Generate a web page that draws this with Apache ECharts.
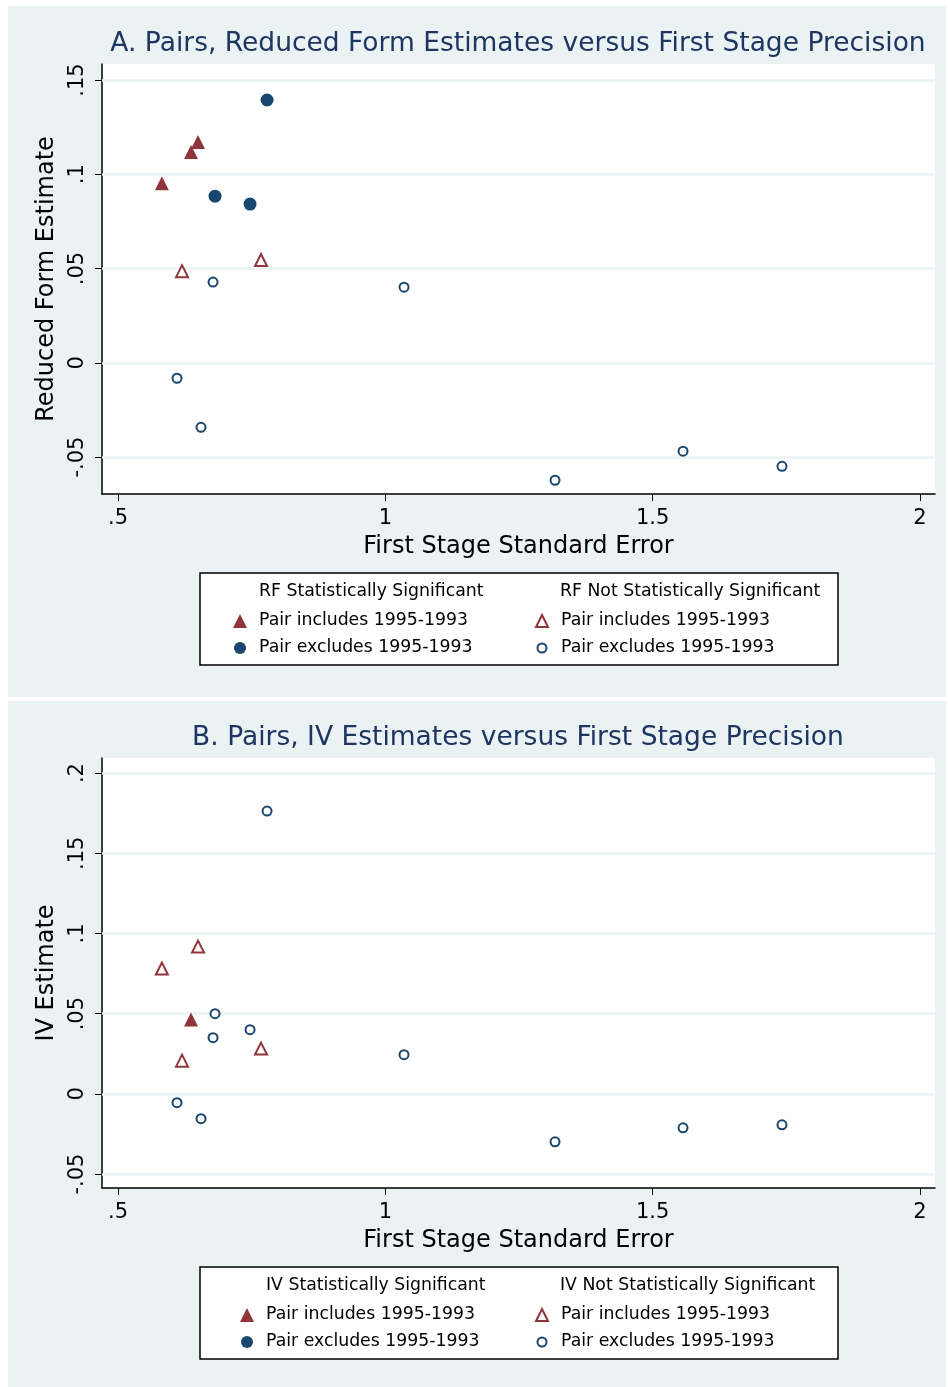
<!DOCTYPE html>
<html>
<head>
<meta charset="utf-8">
<script src="https://cdn.jsdelivr.net/npm/echarts@6/dist/echarts.min.js"></script>
<style>
html,body{margin:0;padding:0;background:#fff;}
#c{width:948px;height:1387px;}
</style>
</head>
<body>
<div id="c"></div>
<script>
// ---------- data ----------
const xTicks = [0.5, 1, 1.5, 2];
const xTickLabels = ['.5', '1', '1.5', '2'];
const yTicksA = [-0.05, 0, 0.05, 0.1, 0.15];
const yTickLabelsA = ['-.05', '0', '.05', '.1', '.15'];
const yTicksB = [-0.05, 0, 0.05, 0.1, 0.15, 0.2];
const yTickLabelsB = ['-.05', '0', '.05', '.1', '.15', '.2'];

// Panel A: reduced form estimates
const rfSigInc = [[0.582, 0.0953], [0.6365, 0.1118], [0.6496, 0.1171]];
const rfSigExc = [[0.7787, 0.1394], [0.6814, 0.0884], [0.7469, 0.0842]];
const rfNsInc = [[0.6197, 0.0486], [0.7674, 0.0545]];
const rfNsExc = [[0.6777, 0.0428], [1.0349, 0.0401], [0.6103, -0.0082], [0.6552, -0.0342],
                 [1.3173, -0.0623], [1.5567, -0.0469], [1.7418, -0.0549]];

// Panel B: IV estimates
const ivSigInc = [[0.6365, 0.0463]];
const ivSigExc = [];
const ivNsInc = [[0.582, 0.0781], [0.6496, 0.0918], [0.6197, 0.0207], [0.7674, 0.0282]];
const ivNsExc = [[0.7787, 0.1763], [0.6814, 0.05], [0.6777, 0.035], [0.7469, 0.04], [1.0349, 0.0244],
                 [0.6103, -0.0055], [0.6552, -0.0155], [1.3173, -0.0299], [1.5567, -0.0212], [1.7418, -0.0193]];

const titleA = 'A. Pairs, Reduced Form Estimates versus First Stage Precision';
const titleB = 'B. Pairs, IV Estimates versus First Stage Precision';
const xName = 'First Stage Standard Error';
const yNameA = 'Reduced Form Estimate';
const yNameB = 'IV Estimate';
const legendHeadA = ['RF Statistically Significant', 'RF Not Statistically Significant'];
const legendHeadB = ['IV Statistically Significant', 'IV Not Statistically Significant'];
const itemInc = 'Pair includes 1995-1993';
const itemExc = 'Pair excludes 1995-1993';

// ---------- style ----------
const FONT = 'DejaVu Sans';
const RED = '#90353b';
const NAVY = '#1a476f';
const BG = '#eaf2f3';
const TITLE_C = '#1f3561';
const LFS = 17.3;

const labelMap = {
  A_si: itemInc, A_se: itemExc, A_ni: itemInc, A_ne: itemExc,
  B_si: itemInc, B_se: itemExc, B_ni: itemInc, B_ne: itemExc
};

function xAxisCfg(gi) {
  return {
    type: 'value', gridIndex: gi, min: 0.47, max: 2.028,
    name: xName, nameLocation: 'middle', nameGap: 41,
    nameTextStyle: {fontFamily: FONT, fontSize: 24, color: '#000'},
    axisLine: {show: true, onZero: false, lineStyle: {color: '#000', width: 1.5}},
    axisTick: {show: true, length: 7, lineStyle: {color: '#000', width: 1}, customValues: xTicks},
    axisLabel: {show: true, fontFamily: FONT, fontSize: 21, color: '#000', margin: 14,
      customValues: xTicks,
      formatter: v => { const i = xTicks.findIndex(t => Math.abs(t - v) < 1e-9); return i >= 0 ? xTickLabels[i] : ''; }},
    splitLine: {show: false}
  };
}
function yAxisCfg(gi, min, max, ticks, labels, name) {
  return {
    type: 'value', gridIndex: gi, min: min, max: max,
    name: name, nameLocation: 'middle', nameGap: 42,
    nameTextStyle: {fontFamily: FONT, fontSize: 24, color: '#000'},
    axisLine: {show: true, onZero: false, lineStyle: {color: '#000', width: 1.5}},
    axisTick: {show: true, length: 7, lineStyle: {color: '#000', width: 1}, customValues: ticks},
    axisLabel: {show: true, rotate: 90, fontFamily: FONT, fontSize: 21, color: '#000', margin: 14,
      customValues: ticks,
      formatter: v => { const i = ticks.findIndex(t => Math.abs(t - v) < 1e-9); return i >= 0 ? labels[i] : ''; }},
    splitLine: {show: false}
  };
}

function scatter(name, gi, data, symbol, size, filled, color) {
  return {
    name: name, type: 'scatter', xAxisIndex: gi, yAxisIndex: gi, data: data,
    symbol: symbol, symbolSize: size, z: 5,
    itemStyle: filled ? {color: color, borderWidth: 0, opacity: 1}
                      : {color: '#ffffff', borderColor: color, borderWidth: 2, opacity: 1},
    emphasis: {disabled: true}
  };
}
function gridLines(gi, ticks) {
  return {
    type: 'scatter', xAxisIndex: gi, yAxisIndex: gi, data: [], z: 1, silent: true,
    markLine: {silent: true, symbol: 'none', animation: false, label: {show: false},
      lineStyle: {color: BG, width: 2.5, type: 'solid'},
      data: ticks.map(v => ({yAxis: v}))}
  };
}

function legendItem(name, iconCx, textX, cy, size) {
  const left = iconCx - size / 2;
  const pad = textX - (left + size + 5);
  return {
    data: [name], orient: 'vertical', left: left, top: cy - 8, padding: 0,
    itemWidth: size, itemHeight: size, selectedMode: false,
    formatter: n => labelMap[n],
    textStyle: {fontFamily: FONT, fontSize: LFS, color: '#000', lineHeight: 20, padding: [0, 0, 0, pad]}
  };
}

const option = {
  backgroundColor: '#ffffff',
  animation: false,
  grid: [
    {left: 102, top: 64, width: 833, height: 430, show: true, backgroundColor: '#ffffff', borderWidth: 0, containLabel: false},
    {left: 102, top: 758, width: 833, height: 430, show: true, backgroundColor: '#ffffff', borderWidth: 0, containLabel: false}
  ],
  xAxis: [xAxisCfg(0), xAxisCfg(1)],
  yAxis: [
    yAxisCfg(0, -0.0696, 0.1585, yTicksA, yTickLabelsA, yNameA),
    yAxisCfg(1, -0.0587, 0.2094, yTicksB, yTickLabelsB, yNameB)
  ],
  legend: [
    legendItem('A_si', 240, 259, 619, 14),
    legendItem('A_se', 240, 259, 646, 12),
    legendItem('A_ni', 541, 560, 619, 12),
    legendItem('A_ne', 541, 560, 646, 9),
    legendItem('B_si', 247, 266, 1313, 14),
    legendItem('B_se', 247, 266, 1340, 12),
    legendItem('B_ni', 541, 560, 1313, 12),
    legendItem('B_ne', 541, 560, 1340, 9)
  ],
  graphic: [
    {type: 'rect', z: -10, silent: true, shape: {x: 8, y: 6, width: 938, height: 691}, style: {fill: BG}},
    {type: 'rect', z: -10, silent: true, shape: {x: 8, y: 701, width: 938, height: 686}, style: {fill: BG}},
    {type: 'rect', z: 0, silent: true, shape: {x: 200, y: 573, width: 638, height: 92}, style: {fill: '#fff', stroke: '#000', lineWidth: 1.5}},
    {type: 'rect', z: 0, silent: true, shape: {x: 200, y: 1267, width: 638, height: 92}, style: {fill: '#fff', stroke: '#000', lineWidth: 1.5}},
    {type: 'text', z: 5, silent: true, x: 518, y: 44, style: {text: titleA, fontFamily: FONT, fontSize: 26.5, fill: TITLE_C, textAlign: 'center', textVerticalAlign: 'middle'}},
    {type: 'text', z: 5, silent: true, x: 518, y: 738, style: {text: titleB, fontFamily: FONT, fontSize: 26.5, fill: TITLE_C, textAlign: 'center', textVerticalAlign: 'middle'}},
    {type: 'text', z: 5, silent: true, x: 259, y: 592, style: {text: legendHeadA[0], fontFamily: FONT, fontSize: LFS, fill: '#000', textVerticalAlign: 'middle'}},
    {type: 'text', z: 5, silent: true, x: 560, y: 592, style: {text: legendHeadA[1], fontFamily: FONT, fontSize: LFS, fill: '#000', textVerticalAlign: 'middle'}},
    {type: 'text', z: 5, silent: true, x: 266, y: 1286, style: {text: legendHeadB[0], fontFamily: FONT, fontSize: LFS, fill: '#000', textVerticalAlign: 'middle'}},
    {type: 'text', z: 5, silent: true, x: 560, y: 1286, style: {text: legendHeadB[1], fontFamily: FONT, fontSize: LFS, fill: '#000', textVerticalAlign: 'middle'}}
  ],
  series: [
    gridLines(0, yTicksA),
    gridLines(1, yTicksB),
    scatter('A_si', 0, rfSigInc, 'triangle', 14, true, RED),
    scatter('A_se', 0, rfSigExc, 'circle', 13, true, NAVY),
    scatter('A_ni', 0, rfNsInc, 'triangle', 12, false, RED),
    scatter('A_ne', 0, rfNsExc, 'circle', 9, false, NAVY),
    scatter('B_si', 1, ivSigInc, 'triangle', 14, true, RED),
    scatter('B_se', 1, ivSigExc, 'circle', 13, true, NAVY),
    scatter('B_ni', 1, ivNsInc, 'triangle', 12, false, RED),
    scatter('B_ne', 1, ivNsExc, 'circle', 9, false, NAVY)
  ]
};

const chart = echarts.init(document.getElementById('c'), null, {renderer: 'canvas'});
chart.setOption(option);
</script>
</body>
</html>
